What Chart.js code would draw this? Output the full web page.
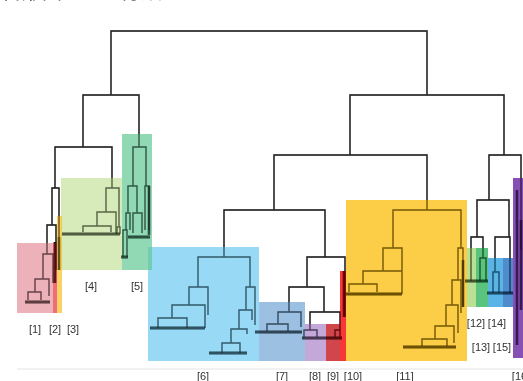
<!DOCTYPE html>
<html>
<head>
<meta charset="utf-8">
<script src="https://cdn.jsdelivr.net/npm/chart.js@4.4.1/dist/chart.umd.min.js"></script>
<style>
  body { margin: 0; background: #fff; }
  #wrap { position: relative; width: 523px; height: 381px; overflow: hidden; }
  #title { position: absolute; left: 2px; top: -19px; font: 20px "Noto Sans CJK JP"; line-height: 20px; color: #111; white-space: nowrap; }
</style>
</head>
<body>
<div id="wrap">
  <div id="title">樹形図による分類</div>
  <canvas id="tree" width="523" height="381"></canvas>
</div>
<script>
// clusters (leaf order range + height range of the shaded block)
const clusterLabels = ['[1]','[2]','[3]','[4]','[5]','[6]','[7]','[8]','[9]','[10]','[11]','[12]','[13]','[14]','[15]','[16]'];
const clusterStart  = [17, 53, 57, 61, 122, 148, 259, 305, 326, 340, 346, 467, 476, 488, 503, 513];
const clusterEnd    = [53, 57, 62, 122, 152, 259, 305, 326, 340, 346, 467, 476, 488, 503, 513, 523];
const clusterTop    = [127, 127, 154, 192, 236, 123, 68, 46, 46, 99, 170, 122, 122, 112, 112, 192];
const clusterBottom = [57, 57, 57, 100, 100, 9, 9, 9, 9, 9, 9, 63, 63, 63, 63, 12];
const clusterColors = [
  'rgba(229,145,155,0.7)', 'rgba(231,48,62,0.7)', 'rgba(248,191,34,0.7)', 'rgba(196,226,155,0.7)',
  'rgba(99,199,148,0.7)', 'rgba(108,202,241,0.7)', 'rgba(112,165,212,0.7)', 'rgba(171,131,202,0.7)',
  'rgba(196,24,30,0.8)', 'rgba(242,5,5,0.8)', 'rgba(251,188,8,0.75)', 'rgba(155,212,105,0.7)',
  'rgba(49,180,92,0.8)', 'rgba(49,161,224,0.8)', 'rgba(36,111,192,0.8)', 'rgba(114,49,167,0.85)'
];
// label anchor (leaf position, height)
const labelX = [35, 55, 73, 91, 137, 203, 282, 315, 333, 353, 405, 476, 481, 497, 502, 521];
const labelY = [40, 40, 40, 83, 83, -7, -7, -7, -7, -7, -7, 46, 22, 46, 22, -7];

// merges: [left child pos, left child height, right child pos, right child height, merge height]
const merges = [
  [111,275,427,275,339],
  [83,223,139,223,275], [55,182,112,182,223], [133,184,146,184,223],
  [52,145,59,133,182], [47,116,56,100,145], [43,91,53,87,116], [35,78,49,74,91], [28,70,41,70,78],
  [106,158,119,143,182], [117,136,120,136,143], [97,144,116,136,158], [83,138,111,138,144],
  [128,157,137,157,184], [145,140,149,140,184], [126,140,130,140,157], [133,137,142,137,157], [123,113,127,113,140],
  [350,215,504,215,275], [274,160,427,160,215],
  [224,113,325,113,160], [198,83,250,83,113], [189,65,208,55,83], [172,52,205,42,65], [158,42,187,42,52],
  [246,60,255,45,83], [239,41,252,50,60], [231,27,247,36,41], [222,17,240,17,27],
  [307,83,345,53,113], [289,58,324,58,83], [278,46,301,43,58], [267,39,288,39,46],
  [310,40,340,40,58], [304,33,317,33,40], [335,33,340,33,40],
  [393,122,461,122,160], [383,99,402,76,122], [363,86,402,76,99], [349,78,377,78,86],
  [458,90,463,63,122], [452,65,461,57,90], [446,44,458,37,65], [435,31,454,27,44], [422,24,447,24,31],
  [489,170,521,120,215], [477,133,509,133,170], [471,89,483,112,133], [480,89,486,89,112],
  [495,98,510,77,133], [493,77,499,77,98]
];
// leaf runs: [from, to, height]
const leafRuns = [
  [25,50,68], [62,120,136], [121,128,113], [128,150,133],
  [150,205,42], [209,247,17], [255,302,38], [302,342,32],
  [346,402,76], [403,456,23], [465,488,89], [487,513,77]
];
// vertical leaf stacks: [pos, from height, to height]
const leafDrops = [
  [55,128,87], [59,133,100], [149,184,135], [344,99,53], [463,110,63], [517,180,25], [521,150,60]
];

const pts = [];
merges.forEach(([xa, ha, xb, hb, h]) => {
  pts.push({x:xa,y:ha}, {x:xa,y:h}, {x:xb,y:h}, {x:xb,y:hb}, {x:xb,y:null});
});
const leafPts = [];
leafRuns.forEach(([a, b, h]) => leafPts.push({x:a,y:h}, {x:b,y:h}, {x:b,y:null}));
const dropPts = [];
leafDrops.forEach(([x, a, b]) => dropPts.push({x:x,y:a}, {x:x,y:b}, {x:x,y:null}));

function lineSet(label, data, color, width) {
  return { label, data, borderColor: color, borderWidth: width, pointRadius: 0, fill: false, spanGaps: false };
}

// first datasets are painted last (on top): a faint pass of the tree over the shaded blocks
const datasets = [
  lineSet('links-top', pts, 'rgba(0,0,0,0.4)', 1.4),
  lineSet('leaves-top', leafPts, 'rgba(0,0,0,0.45)', 3),
  lineSet('drops-top', dropPts, 'rgba(0,0,0,0.45)', 2.5)
];
clusterLabels.forEach((name, i) => datasets.push({
  label: name,
  data: [{x:clusterStart[i], y:clusterTop[i]}, {x:clusterEnd[i], y:clusterTop[i]}],
  fill: {value: clusterBottom[i]},
  backgroundColor: clusterColors[i],
  borderColor: 'rgba(0,0,0,0)', borderWidth: 0, pointRadius: 0
}));
datasets.push(lineSet('links', pts, '#333', 1.4));
datasets.push(lineSet('leaves', leafPts, '#222', 3));
datasets.push(lineSet('drops', dropPts, '#222', 2.5));
datasets.push(lineSet('base', [{x:17,y:1}, {x:523,y:1}], '#e2e2e2', 1));

const labelPlugin = {
  id: 'clusterLabels',
  afterDatasetsDraw(chart) {
    const {ctx, scales: {x, y}} = chart;
    ctx.save();
    ctx.font = '11px "Liberation Sans"';
    ctx.fillStyle = '#333';
    ctx.textAlign = 'center';
    ctx.textBaseline = 'middle';
    clusterLabels.forEach((t, i) => ctx.fillText(t, x.getPixelForValue(labelX[i]), y.getPixelForValue(labelY[i])));
    ctx.restore();
  }
};

new Chart(document.getElementById('tree'), {
  type: 'line',
  data: { datasets },
  options: {
    responsive: false,
    animation: false,
    events: [],
    layout: { padding: 0 },
    elements: { line: { tension: 0 } },
    scales: {
      x: { type: 'linear', min: 0, max: 523, display: false },
      y: { type: 'linear', min: -11, max: 370, display: false }
    },
    plugins: { legend: { display: false }, tooltip: { enabled: false } }
  },
  plugins: [labelPlugin]
});
</script>
</body>
</html>
